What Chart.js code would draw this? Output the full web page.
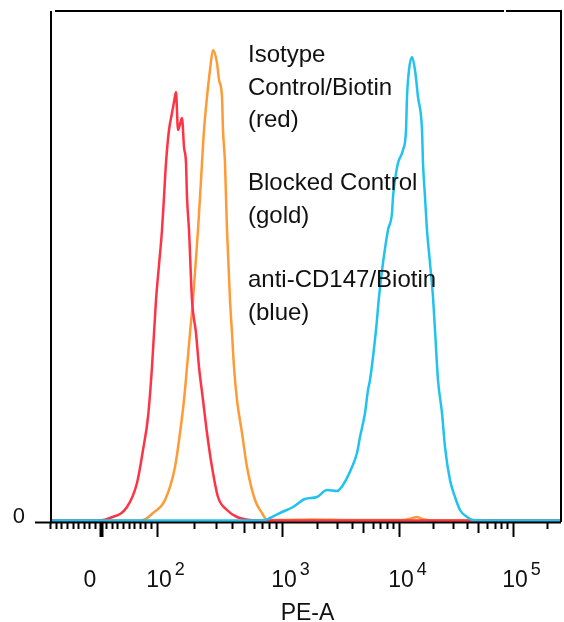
<!DOCTYPE html>
<html><head><meta charset="utf-8">
<script src="https://cdn.jsdelivr.net/npm/chart.js@4/dist/chart.umd.min.js"></script>
<style>html,body{margin:0;padding:0;background:#fff;overflow:hidden}#c{display:block}</style>
</head><body>
<canvas id="c" width="564" height="622"></canvas>
<script>
// ---- data (x = display channel on the PE-A biexponential axis, y = event count) ----
const seriesNames = ['Isotype Control/Biotin', 'Blocked Control', 'anti-CD147/Biotin'];

const redX = [0, 60, 96, 116, 150, 170, 182, 192, 200, 208, 214, 220, 224, 228, 234, 240, 244, 248, 252, 256, 260, 264, 268, 270, 274, 280, 288, 294, 302, 310, 320, 332, 350, 370, 396, 430, 500, 1018];
const redY = [1.5, 1.5, 1.5, 4, 15, 39, 72, 105, 155, 222, 257, 292, 325, 359, 392, 409, 420, 430, 392, 398, 404, 375, 359, 325, 292, 222, 189, 155, 122, 89, 55, 25, 12, 5, 2, 1.5, 1.5, 1.5];

const goldX = [0, 100, 160, 182, 202, 226, 246, 256, 264, 270, 276, 282, 292, 296, 300, 304, 310, 316, 322, 330, 334, 340, 342, 346, 348, 350, 356, 360, 364, 370, 380, 390, 406, 420, 430, 460, 520, 600, 700, 722, 730, 740, 750, 780, 900, 1018];
const goldY = [1.5, 1.5, 1.5, 2, 9, 22, 55, 89, 122, 155, 189, 222, 292, 325, 359, 392, 425, 452, 472, 459, 442, 425, 392, 359, 325, 292, 222, 189, 155, 122, 89, 55, 22, 9, 2, 2, 2.5, 2, 2, 4, 5, 3, 2, 1.5, 1.5, 1.5];

const blueX = [0, 200, 400, 426, 436, 456, 482, 506, 530, 550, 570, 582, 600, 610, 616, 626, 632, 636, 648, 654, 662, 672, 680, 682, 686, 692, 702, 708, 710, 714, 720, 726, 732, 740, 742, 746, 750, 756, 762, 766, 772, 780, 786, 796, 806, 816, 830, 842, 900, 1018];
const blueY = [1.5, 1.5, 1.5, 2, 4, 9, 15, 23, 25, 32, 31, 37, 55, 69, 85, 109, 132, 142, 192, 225, 259, 292, 309, 325, 342, 359, 372, 392, 425, 452, 465, 452, 425, 392, 359, 325, 292, 259, 225, 192, 142, 109, 75, 42, 25, 12, 5, 2, 1.5, 1.5];

// axis ticks: channel positions of 0, 10^2, 10^3, 10^4, 10^5
const xMajorTicks = [98, 210, 460, 694, 922];
const xMajorBase = ['0', '10', '10', '10', '10'];
const xMajorExp = ['', '2', '3', '4', '5'];
const extraMinorTick = 991; // 2x10^5
const yTicks = [0];
const yTickLabels = ['0'];
const xTitle = 'PE-A';
const noteLines = [['Isotype', 'Control/Biotin', '(red)'], ['Blocked Control', '(gold)'], ['anti-CD147/Biotin', '(blue)']];

// ---- derived tick positions ----
const minorTicks = [], mediumTicks = [];
(function () {
  const z = xMajorTicks[0], d2 = xMajorTicks[1];
  const step = (d2 - z) / 10;
  for (let k = -9; k <= 9; k++) { if (k !== 0) minorTicks.push(z + k * step); }
  for (let d = 1; d < xMajorTicks.length - 1; d++) {
    const a = xMajorTicks[d], w = xMajorTicks[d + 1] - a;
    for (let m = 2; m <= 9; m++) {
      const v = a + Math.log10(m) * w;
      if (m === 5) mediumTicks.push(v); else minorTicks.push(v);
    }
  }
  minorTicks.push(extraMinorTick);
})();

const FONT = '"Liberation Sans", Arial, sans-serif';
const toPts = (xs, ys) => xs.map((x, i) => ({ x: x, y: ys[i] }));

const framePlugin = {
  id: 'frame',
  afterDraw(chart) {
    const { ctx, chartArea: a } = chart;
    ctx.save();
    ctx.strokeStyle = '#000';
    ctx.lineWidth = 2;
    ctx.beginPath();
    ctx.moveTo(a.left - 1, a.bottom + 1); ctx.lineTo(a.left - 1, a.top);
    ctx.moveTo(a.left + 3, a.top); ctx.lineTo(a.right - 57, a.top);
    ctx.moveTo(a.right - 55, a.top); ctx.lineTo(a.right, a.top);
    ctx.lineTo(a.right, a.bottom);
    ctx.moveTo(a.left - 1, a.bottom + 0.5); ctx.lineTo(a.right, a.bottom + 0.5);
    ctx.stroke();

    // x tick labels
    const xs = chart.scales.x;
    ctx.fillStyle = '#111';
    ctx.textBaseline = 'alphabetic';
    xMajorTicks.forEach((v, i) => {
      const px = xs.getPixelForValue(v);
      ctx.font = '23px ' + FONT;
      ctx.textAlign = 'center';
      if (!xMajorExp[i]) {
        ctx.fillText(xMajorBase[i], px - 11, 587);
      } else {
        const cx = px + 2;
        ctx.fillText(xMajorBase[i], cx, 587);
        const w = ctx.measureText(xMajorBase[i]).width;
        ctx.font = '18px ' + FONT;
        ctx.textAlign = 'left';
        ctx.fillText(xMajorExp[i], cx + w / 2 + 3, 575);
      }
    });
    // axis title
    ctx.font = '23px ' + FONT;
    ctx.textAlign = 'center';
    ctx.fillText(xTitle, (a.left + a.right) / 2 + 1, 620);

    // series notes
    ctx.textAlign = 'left';
    ctx.font = '24px ' + FONT;
    const groupStart = [62, 190, 287];
    noteLines.forEach((g, gi) => {
      g.forEach((t, li) => ctx.fillText(t, 248, groupStart[gi] + li * 32.5));
    });
    ctx.restore();
  }
};

const tickGrid = (len) => ({
  display: true, drawOnChartArea: false, drawTicks: true,
  tickLength: len, tickColor: '#000',
  tickWidth: (c) => (c.tick && c.tick.value === xMajorTicks[0] ? 4 : 2)
});

new Chart(document.getElementById('c'), {
  type: 'line',
  data: {
    datasets: [
      { label: seriesNames[2], data: toPts(blueX, blueY), borderColor: '#22c2f0' },
      { label: seriesNames[0], data: toPts(redX, redY), borderColor: '#ff3346' },
      { label: seriesNames[1], data: toPts(goldX, goldY), borderColor: '#ff9a36' }
    ]
  },
  options: {
    responsive: false,
    animation: false,
    events: [],
    parsing: true,
    layout: { padding: { top: 11, right: 3, left: 0, bottom: 0 } },
    elements: {
      line: { borderWidth: 2.5, cubicInterpolationMode: 'monotone', fill: false },
      point: { radius: 0 }
    },
    plugins: { legend: { display: false }, tooltip: { enabled: false } },
    scales: {
      x: {
        type: 'linear', position: 'bottom', min: 0, max: 1018,
        border: { display: false },
        grid: tickGrid(15),
        ticks: { display: false },
        afterBuildTicks: (s) => { s.ticks = xMajorTicks.map(v => ({ value: v })); },
        afterFit: (s) => { s.height = 100; s.paddingLeft = 0; s.paddingRight = 0; }
      },
      xMed: {
        type: 'linear', axis: 'x', position: { y: 0 }, min: 0, max: 1018,
        border: { display: false },
        grid: tickGrid(11),
        ticks: { display: false },
        afterBuildTicks: (s) => { s.ticks = mediumTicks.map(v => ({ value: v })); }
      },
      xMin: {
        type: 'linear', axis: 'x', position: { y: 0 }, min: 0, max: 1018,
        border: { display: false },
        grid: tickGrid(7),
        ticks: { display: false },
        afterBuildTicks: (s) => { s.ticks = minorTicks.map(v => ({ value: v })); }
      },
      y: {
        type: 'linear', position: 'left', min: 0, max: 511,
        border: { display: false },
        grid: { display: true, drawOnChartArea: false, drawTicks: true, tickLength: 17, tickWidth: 2, tickColor: '#000' },
        ticks: {
          color: '#111', font: { size: 22, family: FONT }, padding: 10, labelOffset: -5,
          callback: (v) => { const i = yTicks.indexOf(v); return i >= 0 ? yTickLabels[i] : ''; }
        },
        afterBuildTicks: (s) => { s.ticks = yTicks.map(v => ({ value: v })); },
        afterFit: (s) => { s.width = 52; s.paddingTop = 0; s.paddingBottom = 0; }
      }
    }
  },
  plugins: [framePlugin]
});
</script>
</body></html>
